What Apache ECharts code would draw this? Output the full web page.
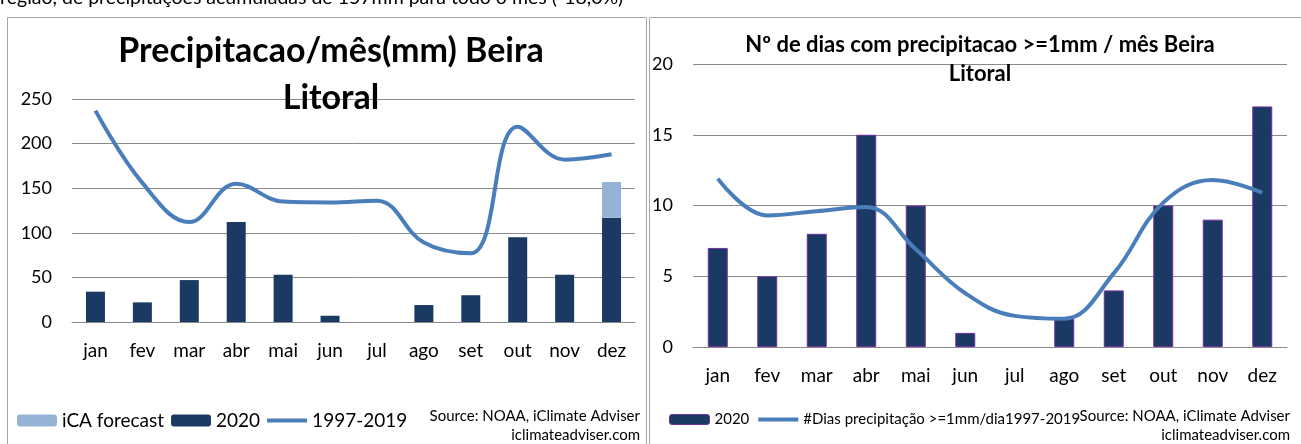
<!DOCTYPE html>
<html>
<head>
    <meta charset="utf-8">
    <title>Precipitacao Beira Litoral</title>
    <script src="https://cdn.jsdelivr.net/npm/echarts@6/dist/echarts.min.js"></script>
    <style>
        html, body { margin: 0; padding: 0; background: #fff; }
    </style>
</head>
<body>
    <div id="chart" style="width: 1301px;height:444px;"></div>
    <script type="text/javascript">
        // dados
        var meses = ['jan', 'fev', 'mar', 'abr', 'mai', 'jun', 'jul', 'ago', 'set', 'out', 'nov', 'dez'];

        // grafico esquerdo: precipitacao mensal (mm)
        var precip2020 = [34, 22, 47, 112, 53, 7, 0, 19, 30, 95, 53, 117];
        var precipForecast = ['-', '-', '-', '-', '-', '-', '-', '-', '-', '-', '-', 40];
        var precipMedia = [237, 156, 112, 155, 135, 134, 136, 89, 77, 219, 182, 188];
        var precipTicks = [0, 50, 100, 150, 200, 250];

        // grafico direito: dias com precipitacao >= 1mm
        var dias2020 = [7, 5, 8, 15, 10, 1, 0, 2, 4, 10, 9, 17];
        var diasMedia = [11.9, 9.3, 9.6, 9.9, 6.9, 3.8, 2.2, 2.0, 5.2, 10.2, 11.8, 10.9];
        var diasTicks = [0, 5, 10, 15, 20];

        var fonte = 'Lato';
        var azulEscuro = '#1b3a63';
        var azulClaro = '#95b3d7';
        var azulLinha = '#4a7ebb';
        var cinza = '#8a8a8a';
        // icone de linha para a legenda (sem o circulo)
        var iconeLinha = 'path://M0,0H40V4H0Z';

        var myChart = echarts.init(document.getElementById('chart'));

        function eixoX(gridIndex) {
            return {
                type: 'category',
                gridIndex: gridIndex,
                data: meses,
                axisLine: { show: true, lineStyle: { color: cinza, width: 1 } },
                axisTick: { show: false },
                axisLabel: { color: '#000', fontFamily: fonte, fontSize: 19, margin: 19 }
            };
        }

        function eixoY(gridIndex, ticks) {
            return {
                type: 'value',
                gridIndex: gridIndex,
                min: ticks[0],
                max: ticks[ticks.length - 1],
                interval: ticks[1] - ticks[0],
                axisLine: { show: false },
                axisTick: { show: false },
                splitLine: { lineStyle: { color: cinza, width: 1 } },
                axisLabel: { color: '#000', fontFamily: fonte, fontSize: 18, margin: 20 }
            };
        }

        var option = {
            backgroundColor: '#fff',
            animation: false,
            textStyle: { fontFamily: fonte },
            title: [
                {
                    text: 'Precipitacao/mês(mm) Beira\nLitoral',
                    left: 331,
                    top: 28,
                    padding: 0,
                    textAlign: 'center',
                    textStyle: { fontFamily: fonte, fontSize: 34, fontWeight: 'bold', color: '#000', lineHeight: 47 }
                },
                {
                    text: 'Nº de dias com precipitacao >=1mm / mês Beira\nLitoral',
                    left: 980,
                    top: 30,
                    padding: 0,
                    textAlign: 'center',
                    textStyle: { fontFamily: fonte, fontSize: 22, fontWeight: 'bold', color: '#000', lineHeight: 29 }
                }
            ],
            legend: [
                {
                    left: 17,
                    top: 411,
                    padding: 0,
                    itemWidth: 40,
                    itemHeight: 12,
                    itemGap: 7,
                    textStyle: { fontFamily: fonte, fontSize: 19, color: '#000' },
                    data: ['iCA forecast', '2020', { name: '1997-2019', icon: iconeLinha }]
                },
                {
                    left: 669,
                    top: 412,
                    padding: 0,
                    itemWidth: 40,
                    itemHeight: 10,
                    itemGap: 9,
                    textStyle: { fontFamily: fonte, fontSize: 15, color: '#000' },
                    data: [
                        { name: '2020', itemStyle: { borderColor: '#7030a0', borderWidth: 1 } },
                        { name: '#Dias precipitação >=1mm/dia1997-2019', icon: iconeLinha }
                    ]
                }
            ],
            grid: [
                { left: 72, right: 666, top: 99, bottom: 122 },
                { left: 693, right: 14, top: 64, bottom: 97 }
            ],
            xAxis: [eixoX(0), eixoX(1)],
            yAxis: [eixoY(0, precipTicks), eixoY(1, diasTicks)],
            series: [
                {
                    name: '2020',
                    type: 'bar',
                    xAxisIndex: 0,
                    yAxisIndex: 0,
                    stack: 'precip',
                    barWidth: 19,
                    itemStyle: { color: azulEscuro },
                    data: precip2020
                },
                {
                    name: 'iCA forecast',
                    type: 'bar',
                    xAxisIndex: 0,
                    yAxisIndex: 0,
                    stack: 'precip',
                    barWidth: 19,
                    itemStyle: { color: azulClaro },
                    data: precipForecast
                },
                {
                    name: '1997-2019',
                    type: 'line',
                    xAxisIndex: 0,
                    yAxisIndex: 0,
                    smooth: 0.4,
                    symbol: 'none',
                    lineStyle: { color: azulLinha, width: 4 },
                    itemStyle: { color: azulLinha },
                    data: precipMedia
                },
                {
                    name: '2020',
                    type: 'bar',
                    xAxisIndex: 1,
                    yAxisIndex: 1,
                    barWidth: 20,
                    itemStyle: { color: azulEscuro, borderColor: '#7030a0', borderWidth: 1 },
                    // barra de valor zero sem contorno
                    data: dias2020.map(function (v) {
                        return v === 0 ? { value: v, itemStyle: { borderWidth: 0 } } : v;
                    })
                },
                {
                    name: '#Dias precipitação >=1mm/dia1997-2019',
                    type: 'line',
                    xAxisIndex: 1,
                    yAxisIndex: 1,
                    smooth: 0.4,
                    symbol: 'none',
                    lineStyle: { color: azulLinha, width: 4 },
                    itemStyle: { color: azulLinha },
                    data: diasMedia
                }
            ],
            graphic: [
                // molduras dos dois paineis
                { type: 'rect', shape: { x: 7.5, y: 17.5, width: 639, height: 440 }, style: { fill: null, stroke: '#a6a6a6', lineWidth: 1 }, silent: true },
                { type: 'rect', shape: { x: 649.5, y: 17.5, width: 660, height: 440 }, style: { fill: null, stroke: '#a6a6a6', lineWidth: 1 }, silent: true },
                // texto cortado no topo
                {
                    type: 'text', left: 0, top: -12,
                    style: { text: 'região, de precipitações acumuladas de 157mm para todo o mês (-18,0%)', fontFamily: fonte, fontSize: 19.5, fill: '#000' }
                },
                { type: 'text', right: 1301 - 640, top: 409, style: { text: 'Source: NOAA, iClimate Adviser', fontFamily: fonte, fontSize: 15, fill: '#000', textAlign: 'right' } },
                { type: 'text', right: 1301 - 640, top: 428, style: { text: 'iclimateadviser.com', fontFamily: fonte, fontSize: 15, fill: '#000', textAlign: 'right' } },
                { type: 'text', right: 1301 - 1290, top: 409, style: { text: 'Source: NOAA, iClimate Adviser', fontFamily: fonte, fontSize: 15, fill: '#000', textAlign: 'right' } },
                { type: 'text', right: 1301 - 1290, top: 428, style: { text: 'iclimateadviser.com', fontFamily: fonte, fontSize: 15, fill: '#000', textAlign: 'right' } }
            ]
        };

        myChart.setOption(option);
    </script>
</body>
</html>
